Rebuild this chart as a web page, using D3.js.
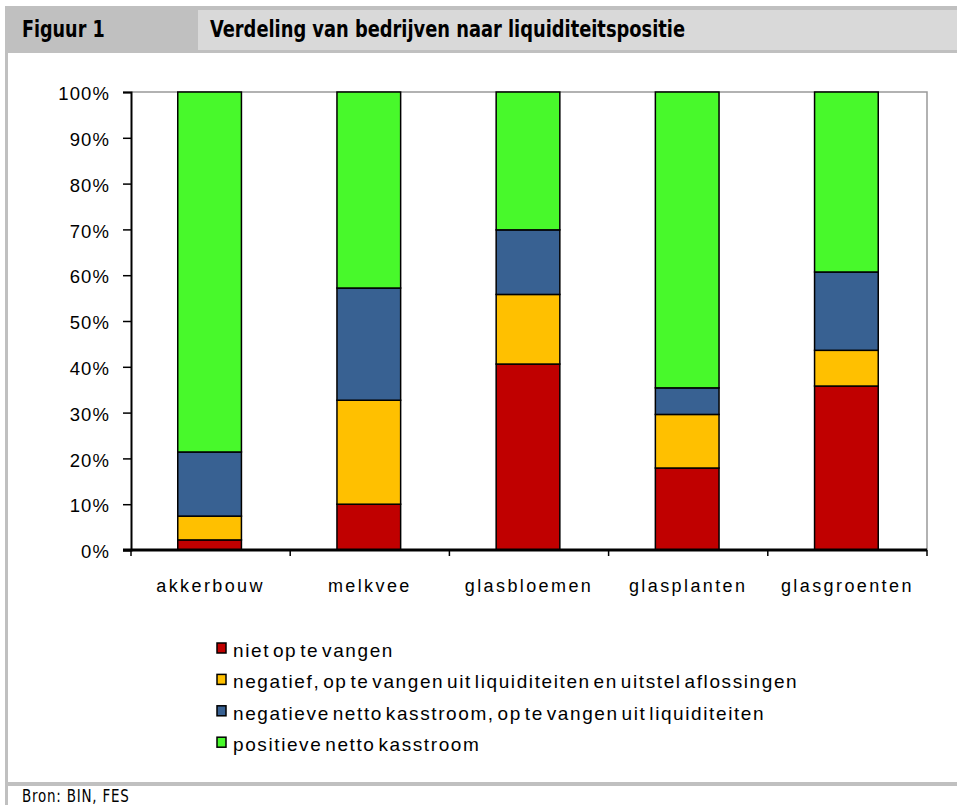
<!DOCTYPE html>
<html>
<head>
<meta charset="utf-8">
<script src="https://cdn.jsdelivr.net/npm/d3@7"></script>
<style>
  body { margin: 0; background: #fff; }
  svg text { font-family: "Liberation Sans", Arial, sans-serif; fill: #000; }
  .narrow { font-family: "DejaVu Sans Condensed", "Liberation Sans Narrow", sans-serif; }
</style>
</head>
<body>
<div id="chart"></div>
<script>
// categories and shares (%) per liquidity class
const categories = ["akkerbouw", "melkvee", "glasbloemen", "glasplanten", "glasgroenten"];
const nietOpTeVangen = [2.2, 10.0, 40.6, 17.9, 35.8];
const negatiefUitstel = [5.2, 22.7, 15.2, 11.7, 7.8];
const negatiefLiquiditeiten = [14.0, 24.5, 14.1, 5.8, 17.1];
const positief = [78.6, 42.8, 30.1, 64.6, 39.3];

const seriesKeys = ["niet", "uitstel", "liq", "pos"];
const seriesLabels = [
    "niet op te vangen",
    "negatief, op te vangen uit liquiditeiten en uitstel aflossingen",
    "negatieve netto kasstroom, op te vangen uit liquiditeiten",
    "positieve netto kasstroom"
];
const seriesColors = ["#c00000", "#ffc000", "#386192", "#48f92b"];
const yTicks = [0, 10, 20, 30, 40, 50, 60, 70, 80, 90, 100];

const W = 957, H = 805;

const svg = d3.select("#chart")
    .append("svg")
    .attr("width", W)
    .attr("height", H);

// header band
svg.append("rect").attr("x", 5).attr("y", 6).attr("width", W - 5).attr("height", 47).attr("fill", "#c0c0c0");
svg.append("rect").attr("x", 198).attr("y", 10).attr("width", W - 198).attr("height", 40).attr("fill", "#d9d9d9");
svg.append("text").attr("class", "narrow")
    .attr("transform", "translate(22,37) scale(0.85,1)")
    .style("font-size", "23px").style("font-weight", "bold")
    .text("Figuur 1");
svg.append("text").attr("class", "narrow")
    .attr("transform", "translate(210,37) scale(0.862,1)")
    .style("font-size", "23px").style("font-weight", "bold")
    .text("Verdeling van bedrijven naar liquiditeitspositie");

// frame lines
svg.append("rect").attr("x", 5).attr("y", 53).attr("width", 3).attr("height", H - 53).attr("fill", "#c0c0c0");
svg.append("rect").attr("x", 5).attr("y", 782).attr("width", W - 5).attr("height", 4).attr("fill", "#c0c0c0");
svg.append("text").attr("class", "narrow")
    .attr("transform", "translate(22,802) scale(0.88,1)")
    .style("font-size", "17px").style("letter-spacing", "0.9px")
    .text("Bron: BIN, FES");

// chart
const x = d3.scaleBand().domain(categories).range([131, 927]);
const y = d3.scaleLinear().domain([0, 100]).range([550, 92]);

const rows = categories.map((c, i) => ({
    cat: c,
    niet: nietOpTeVangen[i],
    uitstel: negatiefUitstel[i],
    liq: negatiefLiquiditeiten[i],
    pos: positief[i]
}));
const stacked = d3.stack().keys(seriesKeys)(rows);

// plot area border (top/right)
svg.append("path")
    .attr("d", `M${x.range()[0]},${y(100)}H${x.range()[1]}V${y(0)}`)
    .attr("fill", "none").attr("stroke", "#999").attr("stroke-width", 1.5);

const barW = x.bandwidth() * 0.4;
svg.append("g").selectAll("g")
    .data(stacked).join("g")
    .attr("fill", (d, i) => seriesColors[i])
    .selectAll("rect")
    .data(d => d).join("rect")
    .attr("x", d => x(d.data.cat) + x.bandwidth() / 2 - barW / 2 - 1)
    .attr("y", d => y(d[1]))
    .attr("width", barW)
    .attr("height", d => y(d[0]) - y(d[1]))
    .attr("stroke", "#000").attr("stroke-width", 1.5);

// y axis
const yAxis = svg.append("g")
    .attr("transform", `translate(${x.range()[0]},0)`)
    .call(d3.axisLeft(y).tickValues(yTicks).tickSize(8).tickFormat(d => d + "%"));
yAxis.select(".domain").attr("stroke", "#000").attr("stroke-width", 2);
yAxis.selectAll(".tick line").attr("stroke", "#000").attr("stroke-width", 1.5);
yAxis.selectAll(".tick text")
    .attr("x", -21).attr("dy", "0.42em")
    .style("font-size", "18.5px").style("letter-spacing", "1.1px").style("font-family", "Liberation Sans, Arial, sans-serif");

// x axis
const bounds = categories.map(c => x(c)).concat([x.range()[1]]);
const xAxis = svg.append("g").attr("transform", `translate(0,${y(0)})`);
xAxis.append("line")
    .attr("x1", x.range()[0] - 8).attr("x2", x.range()[1])
    .attr("stroke", "#000").attr("stroke-width", 3);
xAxis.selectAll(".xtick").data(bounds).join("line")
    .attr("x1", d => d).attr("x2", d => d)
    .attr("y1", 0).attr("y2", 6)
    .attr("stroke", "#000").attr("stroke-width", 1.5);
xAxis.selectAll(".xlabel").data(categories).join("text")
    .attr("x", d => x(d) + x.bandwidth() / 2)
    .attr("y", 42)
    .attr("text-anchor", "middle")
    .style("font-size", "18px").style("letter-spacing", "2.4px")
    .text(d => d);

// legend
const legend = svg.append("g").selectAll("g")
    .data(seriesLabels).join("g")
    .attr("transform", (d, i) => `translate(217,${643 + i * 31.4})`);
legend.append("rect")
    .attr("width", 9).attr("height", 10)
    .attr("fill", (d, i) => seriesColors[i])
    .attr("stroke", "#000").attr("stroke-width", 1.5);
legend.append("text")
    .attr("x", 16).attr("y", 14)
    .style("font-size", "19px").style("letter-spacing", "1.6px").style("word-spacing", "-4px")
    .text(d => d);
</script>
</body>
</html>
